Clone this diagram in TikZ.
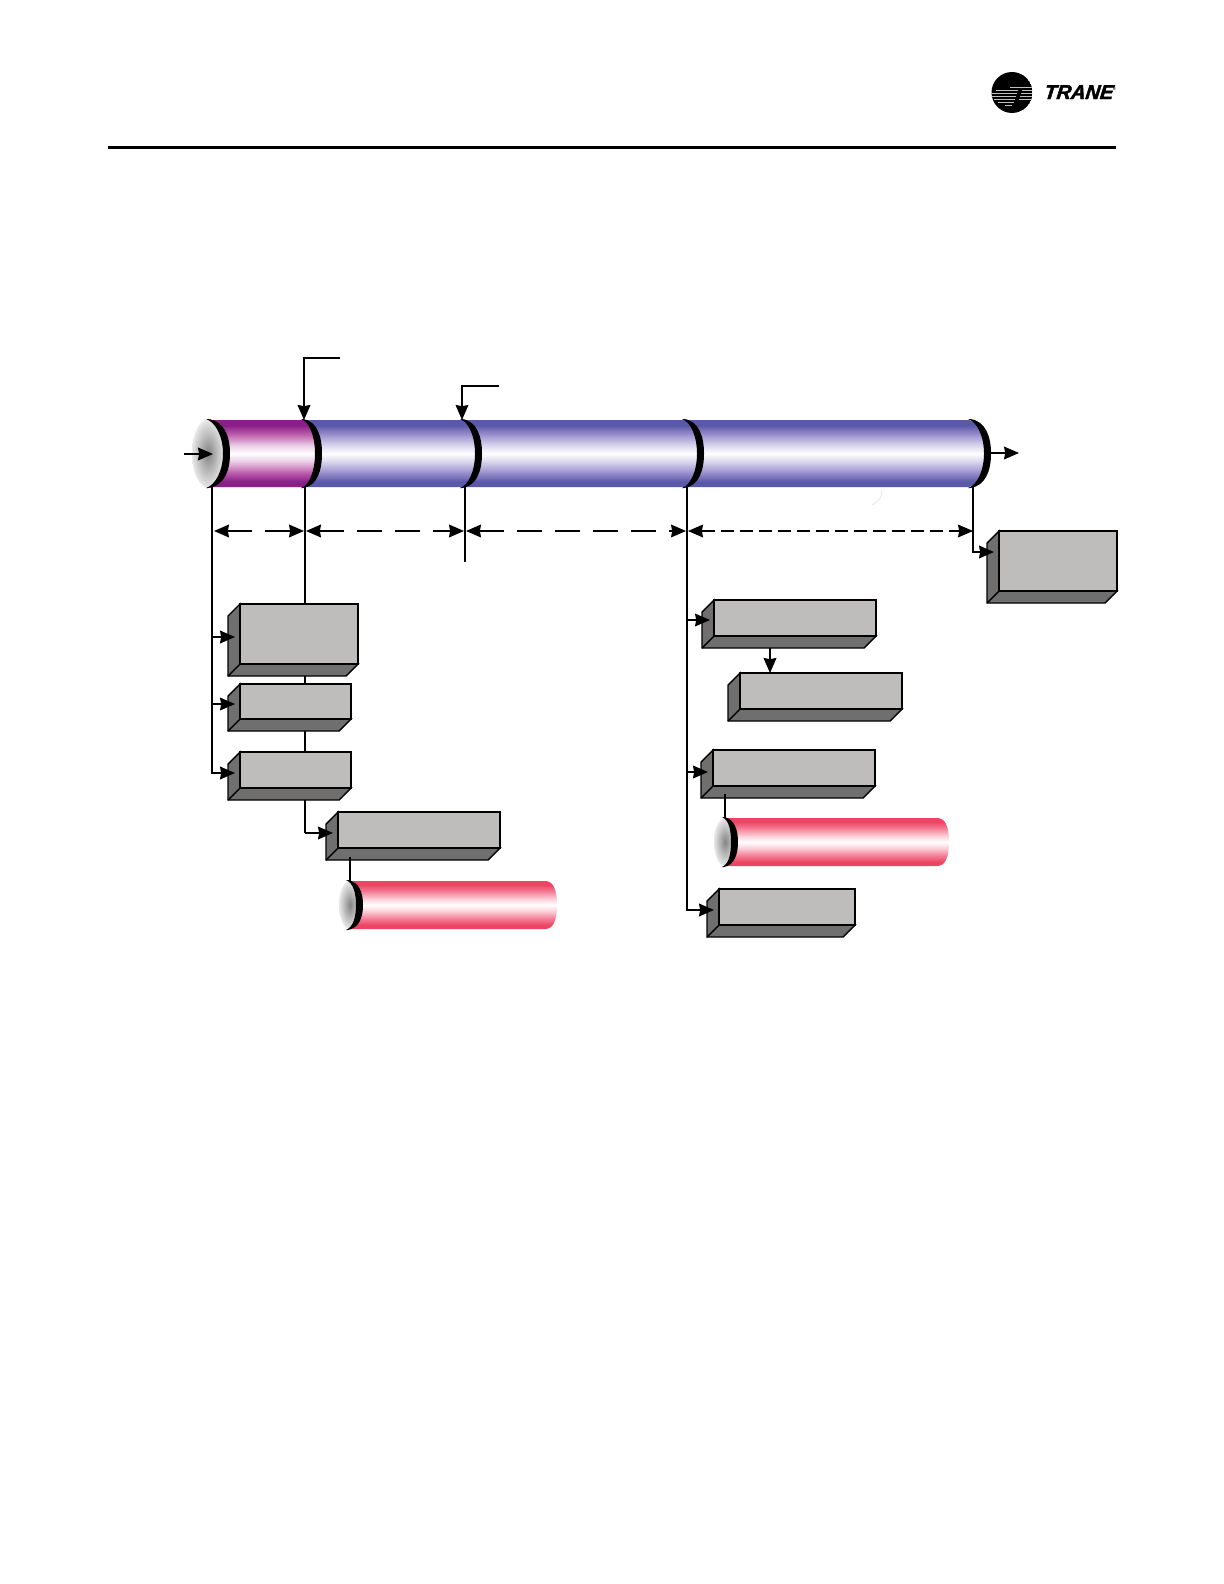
\documentclass[tikz,border=0pt]{standalone}
\usepackage{fontspec}
\usetikzlibrary{arrows.meta,calc}
\newfontfamily\logofont[BoldItalicFeatures={FakeBold=2.2,FakeSlant=0.12}]{Liberation Sans}
\newfontfamily\regfont{Liberation Sans}
\definecolor{faceC}{HTML}{BEBDBB}
\definecolor{sideC}{HTML}{6F6F6F}
\definecolor{bE}{HTML}{5A58A8}
\definecolor{bM}{HTML}{9C92CE}
\definecolor{bL}{HTML}{DAD6EE}
\definecolor{pE}{HTML}{8A1F88}
\definecolor{pM}{HTML}{BE62AE}
\definecolor{pL}{HTML}{EBCDE6}
\definecolor{rE}{HTML}{EC4462}
\definecolor{rM}{HTML}{F47F96}
\definecolor{rL}{HTML}{FBD3DB}
\pgfdeclareverticalshading{blueTube}{100bp}{color(0bp)=(bE);color(25bp)=(bE);color(29bp)=(bE);color(36bp)=(bM);color(44bp)=(bL);color(50bp)=(white);color(56bp)=(bL);color(64bp)=(bM);color(71bp)=(bE);color(75bp)=(bE);color(100bp)=(bE)}
\pgfdeclareverticalshading{purpleTube}{100bp}{color(0bp)=(pE);color(25bp)=(pE);color(29bp)=(pE);color(36bp)=(pM);color(44bp)=(pL);color(50bp)=(white);color(56bp)=(pL);color(64bp)=(pM);color(71bp)=(pE);color(75bp)=(pE);color(100bp)=(pE)}
\pgfdeclareverticalshading{pinkTube}{100bp}{color(0bp)=(rE);color(25bp)=(rE);color(29bp)=(rE);color(36bp)=(rM);color(44bp)=(rL);color(50bp)=(white);color(56bp)=(rL);color(64bp)=(rM);color(71bp)=(rE);color(75bp)=(rE);color(100bp)=(rE)}
% crescent: x start, x bulge, y top, y bottom
\newcommand{\crest}[4]{%
  \fill[black] (#1-2,#3-1) -- (#1,#3-1) .. controls ({#1+0.75*(#2-#1)},{#3+1}) and (#2,{#3+0.25*(#4-#3)}) .. (#2,{(#3+#4)/2})
    .. controls (#2,{#3+0.75*(#4-#3)}) and ({#1+0.75*(#2-#1)},{#4-1}) .. (#1,#4+1) -- (#1-2,#4+1)
    .. controls ({#1+0.35*(#2-#1)},{#4-2}) and (#2-7,{#3+0.75*(#4-#3)}) .. (#2-7,{(#3+#4)/2})
    .. controls (#2-7,{#3+0.25*(#4-#3)}) and ({#1+0.35*(#2-#1)},{#3+2}) .. (#1-2,#3-1) -- cycle;}
% box: name, x front left, y top, x right, y front bottom
\newcommand{\gbox}[5]{%
  \pgfmathsetmacro{\bw}{#4-#2}\pgfmathsetmacro{\bh}{#5-#3}%
  \draw[boxline,fill=sideC] (#2,#3) -- (#2-12,#3+12) -- (#2-12,#5+12) -- (#4-12,#5+12) -- (#4,#5) -- (#2,#5) -- cycle;
  \draw[boxline] (#2,#5) -- (#2-12,#5+12);
  \node[frontface,minimum width=\bw*0.5pt,minimum height=\bh*0.5pt,anchor=north west] (#1) at (#2,#3) {};}
\tikzset{
  tipS/.tip={Stealth[length=7.5pt,width=6.4pt,inset=0.6pt]},
  boxline/.style={draw=black,line width=0.7pt,line join=miter},
  frontface/.style={draw=black,fill=faceC,line width=0.85pt,inner sep=0pt,outer sep=0pt},
  thinline/.style={draw=black,line width=0.6pt},
  midline/.style={draw=black,line width=0.85pt},
  arr/.style={draw=black,line width=0.9pt,-{tipS}},
  arrthin/.style={draw=black,line width=0.6pt,-{tipS}},
  dimthick/.style={draw=black,line width=0.9pt,{tipS}-{tipS},dash pattern=on 12.5pt off 6.5pt},
  dimthin/.style={draw=black,line width=0.6pt,{tipS}-{tipS},dash pattern=on 12.5pt off 6.5pt},
  dimfine/.style={draw=black,line width=0.55pt,{tipS}-{tipS},dash pattern=on 6.5pt off 3pt},
  capshade/.style={inner color=black!48,outer color=black!9},
}
\begin{document}
\begin{tikzpicture}[x=0.5pt,y=-0.5pt]
\useasboundingbox (0,0) rectangle (1224,1584);
\fill[white] (0,0) rectangle (1224,1584);

% header
\coordinate (ruleL) at (108,147.5);
\coordinate (ruleR) at (1116,147.5);
\draw[line width=1.5pt,black] (ruleL) -- (ruleR);
\begin{scope}
  \clip (1012,92.5) circle (20.5);
  \fill[black] (1012,92.5) circle (20.5);
  \foreach \yy/\xa/\xb in {87/1010/1034,90/996/1018,90/1022/1034,93/990/1017,93/1021/1034,96/990/1016,96/1020/1034,99/994/1015,99/1019/1034,102/998/1014,105/1005/1012}
    \draw[black!25,line width=0.4pt] (\xa,\yy) -- (\xb,\yy);
\end{scope}
\node[anchor=base west,inner sep=0pt,font=\logofont\bfseries\itshape\fontsize{10}{10}\selectfont] (logotext) at (1043.5,99) {TRANE\raisebox{4.2pt}{\regfont\fontsize{2}{2}\selectfont®}};

% main tube
\shade[shading=blueTube] (302,420) -- (969,420) .. controls (981,424) and (987,440) .. (987,453.5) .. controls (987,467) and (981,483) .. (969,487) -- (302,487) -- cycle;
\shade[shading=purpleTube] (209,420) -- (303,420) .. controls (312,424) and (318,440) .. (318,453.5) .. controls (318,467) and (312,483) .. (303,487) -- (209,487) -- cycle;
\shade[capshade] (208,453.5) ellipse (16 and 34);
\crest{208}{230}{420}{487}
\crest{303}{322}{420}{487}
\crest{462}{482}{420}{487}
\crest{684}{704}{420}{487}
\crest{970}{991}{420}{487}

% faint mark below the tube
\coordinate (markA) at (882,490);
\coordinate (markB) at (872,505);
\draw[black!9,line width=0.4pt] (markA) to[bend left=35] (markB);

% named junctions
\coordinate (c1) at (212,487);
\coordinate (c2) at (305,487);
\coordinate (c3) at (465,487);
\coordinate (c4) at (687,487);
\coordinate (c5) at (973,487);
\coordinate (c3end) at (465,562);
\coordinate (j1) at (305,833);

% drops behind the boxes
\draw[thinline] (c1) -- (212,773);
\draw[midline] (c2) -- (j1);
\draw[midline] (c3) -- (c3end);
\draw[thinline] (c4) -- (687,910);
\draw[thinline] (c5) -- (973,552);

% boxes
\gbox{b1}{240}{604}{358}{664}
\gbox{b2}{240}{684}{351}{719}
\gbox{b3}{240}{752}{351}{788}
\gbox{b4}{338}{812}{500}{848}
\gbox{b5}{714}{600}{876}{636}
\gbox{b6}{740}{673}{902}{709}
\gbox{b7}{713}{750}{875}{786}
\gbox{b8}{719}{889}{855}{925}
\gbox{b9}{999}{531}{1117}{591}

% arrows into boxes
\coordinate (b1in) at (235,637);
\coordinate (b2in) at (235,704);
\coordinate (b3in) at (235,773);
\coordinate (b4in) at (333,833);
\coordinate (b5in) at (710,620);
\coordinate (b7in) at (708,772);
\coordinate (b8in) at (714,910);
\coordinate (b9in) at (994,552);
\draw[arr] (c1) |- (b1in);
\draw[arrthin] (c1) |- (b2in);
\draw[arr] (c1) |- (b3in);
\draw[arr] (j1) -- (b4in);
\draw[arrthin] (c4) |- (b5in);
\draw[arr] (c4) |- (b7in);
\draw[arr] (c4) |- (b8in);
\draw[arr] (c5) |- (b9in);
\coordinate (b5out) at (770,648);
\draw[arr] (b5out) -- (b6.north -| b5out);

% top feeds
\coordinate (f1s) at (340,358);
\coordinate (f1e) at (304,420);
\coordinate (f2s) at (499,386);
\coordinate (f2e) at (462,420);
\draw[arr,line width=1.1pt,line join=miter] (f1s) -| (f1e);
\draw[arrthin,line join=miter] (f2s) -| (f2e);

% inlet and outlet
\coordinate (inS) at (184,454);
\coordinate (inE) at (213,454);
\coordinate (outS) at (990,453);
\coordinate (outE) at (1019,453);
\draw[arr] (inS) -- (inE);
\draw[arrthin] (outS) -- (outE);

% dimension lines
\coordinate (d1) at (214,531);
\coordinate (d2a) at (304,531);
\coordinate (d2b) at (306,531);
\coordinate (d3a) at (464,531);
\coordinate (d3b) at (466,531);
\coordinate (d4a) at (686,531);
\coordinate (d4b) at (688,531);
\coordinate (d5) at (973,531);
\draw[dimthick] (d1) -- (d2a);
\draw[dimthick] (d2b) -- (d3a);
\draw[dimthin] (d3b) -- (d4a);
\draw[dimfine] (d4b) -- (d5);

% pink tube 1
\coordinate (p1top) at (350,881);
\coordinate (b4out) at (350,857);
\draw[midline] (b4out) -- (p1top);
\shade[shading=pinkTube] (348,881) -- (545,881) .. controls (553,881) and (557,889) .. (557,905) .. controls (557,921) and (553,929) .. (545,929) -- (348,929) -- cycle;
\shade[capshade] (350,905) ellipse (11 and 24);
\crest{348}{363}{881}{929}

% pink tube 2
\coordinate (p2top) at (725,818);
\coordinate (b7out) at (725,794);
\draw[thinline] (b7out) -- (p2top);
\shade[shading=pinkTube] (724,818) -- (937,818) .. controls (945,818) and (949,826) .. (949,842) .. controls (949,858) and (945,866) .. (937,866) -- (724,866) -- cycle;
\shade[capshade] (725,842) ellipse (11 and 24);
\crest{724}{738}{818}{866}
\end{tikzpicture}
\end{document}
